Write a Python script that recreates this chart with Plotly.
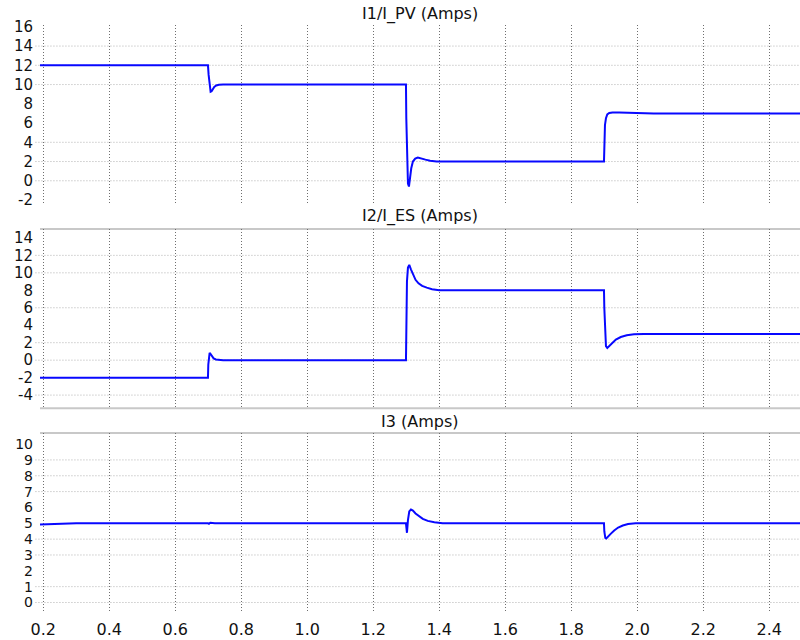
import plotly.graph_objects as go

# Time samples (s) and branch currents (A) for the three measured quantities
t_i1 = [0.19, 0.699, 0.701, 0.704, 0.707, 0.710, 0.714, 0.718, 0.724, 0.732, 0.745,
        1.299, 1.300, 1.302, 1.305, 1.308, 1.311, 1.315, 1.320, 1.327, 1.335, 1.345, 1.358, 1.372, 1.392,
        1.899, 1.900, 1.902, 1.905, 1.909, 1.915, 1.925, 1.945, 1.975, 2.01, 2.05, 2.493]
i1_pv = [12.0, 12.0, 11.0, 9.6, 9.25, 9.3, 9.55, 9.75, 9.9, 9.97, 10.0,
         10.0, 6.5, 2.0, -0.3, -0.6, 0.2, 1.3, 2.0, 2.3, 2.42, 2.35, 2.2, 2.08, 2.0,
         2.0, 3.5, 5.8, 6.5, 6.9, 7.05, 7.1, 7.1, 7.08, 7.04, 7.0, 7.0]

t_i2 = [0.19, 0.699, 0.700, 0.702, 0.704, 0.707, 0.711, 0.716, 0.723, 0.733, 0.745,
        1.299, 1.300, 1.302, 1.305, 1.309, 1.314, 1.320, 1.328, 1.337, 1.348, 1.362, 1.378, 1.400,
        1.899, 1.900, 1.902, 1.905, 1.909, 1.915, 1.923, 1.935, 1.950, 1.968, 1.990, 2.02, 2.493]
i2_es = [-2.0, -2.0, -0.5, 0.6, 0.85, 0.7, 0.4, 0.2, 0.08, 0.02, 0.0,
         0.0, 4.0, 9.0, 10.6, 10.9, 10.4, 9.8, 9.2, 8.8, 8.5, 8.3, 8.12, 8.0,
         8.0, 6.0, 3.0, 1.6, 1.4, 1.6, 1.95, 2.35, 2.65, 2.85, 2.96, 3.0, 3.0]

t_i3 = [0.19, 0.25, 0.30, 0.699, 0.702, 0.706, 0.712, 0.72,
        1.299, 1.300, 1.302, 1.305, 1.309, 1.314, 1.320, 1.328, 1.338, 1.350, 1.365, 1.385, 1.410,
        1.899, 1.900, 1.903, 1.906, 1.912, 1.920, 1.930, 1.942, 1.956, 1.972, 1.995, 2.493]
i3 = [4.93, 4.97, 5.0, 5.0, 4.97, 5.03, 5.01, 5.0,
      5.0, 4.5, 4.4, 5.2, 5.75, 5.87, 5.8, 5.62, 5.45, 5.28, 5.15, 5.06, 5.0,
      5.0, 4.5, 4.08, 4.04, 4.15, 4.35, 4.55, 4.73, 4.86, 4.95, 5.0, 5.0]

titles = ["I1/I_PV (Amps)", "I2/I_ES (Amps)", "I3 (Amps)"]

x_ticks = [0.2, 0.4, 0.6, 0.8, 1.0, 1.2, 1.4, 1.6, 1.8, 2.0, 2.2, 2.4]
x_labels = ["0.2", "0.4", "0.6", "0.8", "1.0", "1.2", "1.4", "1.6", "1.8", "2.0", "2.2", "2.4"]

y1_ticks = [-2, 0, 2, 4, 6, 8, 10, 12, 14, 16]
y2_ticks = [-4, -2, 0, 2, 4, 6, 8, 10, 12, 14]
y3_ticks = [0, 1, 2, 3, 4, 5, 6, 7, 8, 9, 10]

# levels that carry a dotted reference line
y1_grid = [0, 2, 4, 10, 12, 14]
y2_grid = [-4, 0, 2, 6, 10, 12]
y3_grid = [0, 1, 3, 4, 7, 8, 9]

LINE = "#0808ff"
TXT = "#111111"
FONT = "DejaVu Sans"
HGRID = "#b0b0b0"
VGRID = "#6e6e6e"

x_range = [0.19, 2.493]
domains = [[0.665, 0.959], [0.333, 0.626], [0.0, 0.2925]]
y_ranges = [[-2.52, 16.18], [-5.5, 15.03], [-0.6, 10.7]]
y_ticklists = [y1_ticks, y2_ticks, y3_ticks]
y_gridlists = [y1_grid, y2_grid, y3_grid]
y_fontsizes = [15, 15, 14]
series = [(t_i1, i1_pv), (t_i2, i2_es), (t_i3, i3)]

fig = go.Figure()
axis_names = [("x", "y"), ("x2", "y2"), ("x3", "y3")]
for (tx, vy), (xa, ya) in zip(series, axis_names):
    fig.add_trace(go.Scatter(x=tx, y=vy, mode="lines", line=dict(color=LINE, width=2),
                             xaxis=xa, yaxis=ya, showlegend=False))


def xaxis(anchor, show_labels):
    return dict(
        anchor=anchor, domain=[0, 1], range=x_range, zeroline=False, automargin=False,
        tickmode="array", tickvals=x_ticks, ticktext=x_labels,
        showticklabels=show_labels, ticks="", ticklabelstandoff=6,
        tickfont=dict(family=FONT, size=16, color=TXT),
        showgrid=True, gridcolor=VGRID, griddash="1px,2px", gridwidth=1,
    )


def yaxis(anchor, k):
    return dict(
        anchor=anchor, domain=domains[k], range=y_ranges[k], showgrid=False, zeroline=False,
        automargin=False,
        tickmode="array", tickvals=y_ticklists[k], ticktext=[str(v) for v in y_ticklists[k]],
        ticks="", ticklabelstandoff=6,
        tickfont=dict(family=FONT, size=y_fontsizes[k], color=TXT),
    )


fig.update_layout(
    width=800, height=640,
    margin=dict(l=40, r=0, t=0, b=28, pad=0),
    paper_bgcolor="white", plot_bgcolor="white",
    xaxis=xaxis("y", False),
    xaxis2=xaxis("y2", False),
    xaxis3=xaxis("y3", True),
    yaxis=yaxis("x", 0),
    yaxis2=yaxis("x2", 1),
    yaxis3=yaxis("x3", 2),
)

# dotted horizontal reference lines with a short tick at the left edge
for k, (xa, ya) in enumerate(axis_names):
    for v in y_gridlists[k]:
        fig.add_shape(type="line", xref="paper", yref=ya, x0=-0.006, x1=1, y0=v, y1=v,
                      line=dict(color=HGRID, width=1, dash="1px,2px"), layer="below")

# panel separators
for yref, yv in [("y2 domain", 1), ("y2 domain", 0), ("y3 domain", 1)]:
    fig.add_shape(type="line", xref="paper", yref=yref, x0=0, x1=1, y0=yv, y1=yv,
                  line=dict(color="#c8c8c8", width=2), layer="below")

title_y = [0.977, 0.647, 0.3105]
for txt, ty in zip(titles, title_y):
    fig.add_annotation(text=txt, xref="paper", yref="paper", x=0.5, y=ty,
                       xanchor="center", yanchor="middle", showarrow=False,
                       font=dict(family=FONT, size=16, color=TXT))

fig.write_html("out.html")
